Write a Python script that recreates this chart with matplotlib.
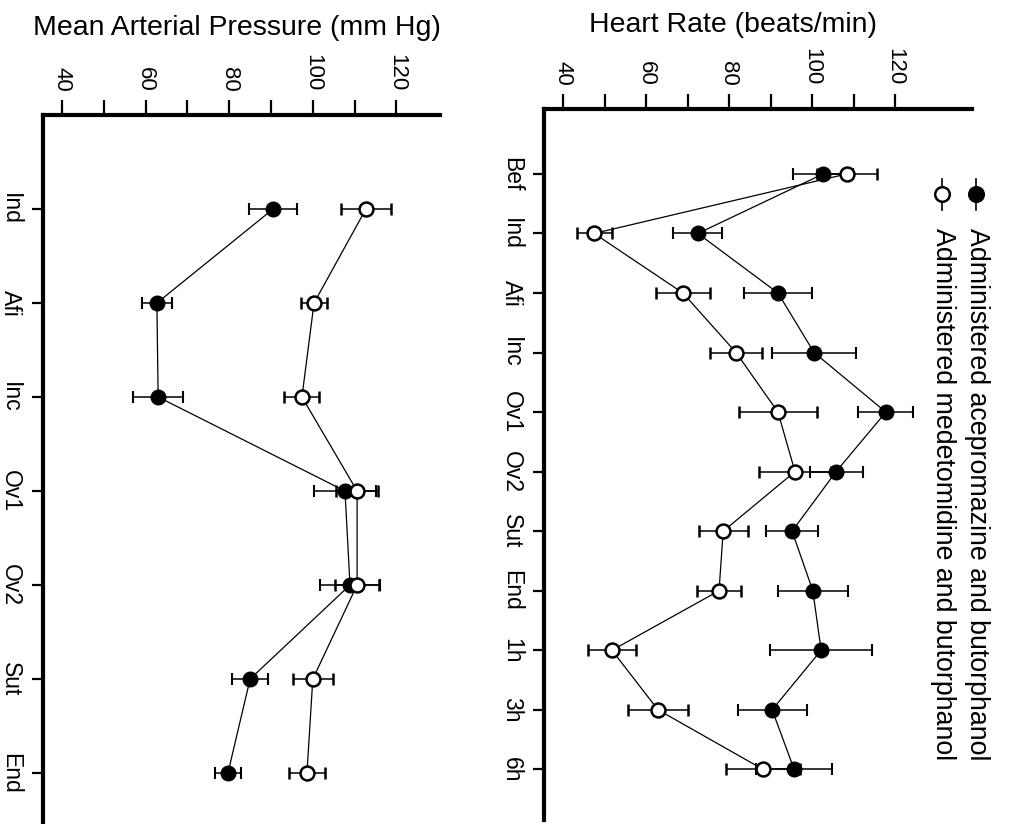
import matplotlib
matplotlib.use("Agg")
import matplotlib.pyplot as plt
from matplotlib.lines import Line2D
import numpy as np

plt.rcParams['font.family'] = ['Liberation Sans', 'DejaVu Sans']

# ---- data ----
map_categories = ["Ind", "Afi", "Inc", "Ov1", "Ov2", "Sut", "End"]
map_ace = [90.5, 62.7, 63.0, 107.7, 108.9, 85.0, 79.7]
map_ace_err = [5.8, 3.6, 6.0, 7.4, 7.2, 4.4, 3.2]
map_med = [112.7, 100.3, 97.4, 110.6, 110.6, 100.0, 98.6]
map_med_err = [6.0, 3.2, 4.2, 5.0, 5.2, 4.8, 4.4]

hr_categories = ["Bef", "Ind", "Afi", "Inc", "Ov1", "Ov2", "Sut", "End", "1h", "3h", "6h"]
hr_ace = [102.7, 72.5, 91.8, 100.5, 117.8, 105.8, 95.2, 100.2, 102.2, 90.4, 95.7]
hr_ace_err = [7.2, 5.9, 8.2, 10.2, 6.6, 6.4, 6.3, 8.4, 12.3, 8.3, 9.2]
hr_med = [108.4, 47.5, 68.9, 81.7, 91.8, 95.9, 78.6, 77.6, 51.8, 62.9, 88.2]
hr_med_err = [7.2, 4.2, 6.5, 6.2, 9.3, 8.7, 5.9, 5.4, 5.8, 7.2, 8.9]

value_ticks = [40, 60, 80, 100, 120]
value_minor = [50, 70, 90, 110]

map_title = "Mean Arterial Pressure (mm Hg)"
hr_title = "Heart Rate (beats/min)"
legend_labels = ["Administered acepromazine and butorphanol",
                 "Administered medetomidine and butorphanol"]

W, H = 1010, 824
fig = plt.figure(figsize=(W / 100, H / 100), dpi=100)


def px_axes(x0, x1, y_top, y_bot):
    return fig.add_axes([x0 / W, 1 - y_bot / H, (x1 - x0) / W, (y_bot - y_top) / H])


def style_axes(ax, cats, xlim, ylim):
    ax.set_xlim(*xlim)
    ax.set_ylim(*ylim)
    for s in ["right", "bottom"]:
        ax.spines[s].set_visible(False)
    for s in ["top", "left"]:
        ax.spines[s].set_linewidth(3.0)
    ax.xaxis.set_ticks_position("top")
    ax.set_xticks(value_ticks)
    ax.set_xticks(value_minor, minor=True)
    ax.set_xticklabels([str(v) for v in value_ticks], rotation=-90, fontsize=16)
    ax.tick_params(axis="x", which="both", direction="out", length=11, width=1.6, pad=6)
    ax.set_yticks(np.arange(1, len(cats) + 1))
    ax.set_yticklabels(cats, rotation=-90, fontsize=16.5, va="center")
    ax.tick_params(axis="y", direction="out", length=8, width=1.6, pad=7)
    ax.patch.set_alpha(0)


def draw_series(ax, vals_a, err_a, vals_m, err_m):
    y = np.arange(1, len(vals_a) + 1)
    ekw = dict(ecolor="black", elinewidth=1.1, capsize=4.5, capthick=1.1)
    ax.errorbar(vals_a, y, xerr=err_a, fmt="-o", color="black", lw=0.9,
                ms=10, mfc="black", mec="black", mew=1.5, zorder=3, **ekw)
    ax.errorbar(vals_m, y, xerr=err_m, fmt="-o", color="black", lw=0.9,
                ms=10, mfc="white", mec="black", mew=1.8, zorder=4, **ekw)


# Left panel: MAP
ax1 = px_axes(43, 440, 115, 115 + 8 * 94)
style_axes(ax1, map_categories,
           (40 - 19 / 4.18, 40 + 378 / 4.18), (8, 0))
draw_series(ax1, map_ace, map_ace_err, map_med, map_med_err)

# Right panel: HR
ax2 = px_axes(544, 972, 109, 820)
style_axes(ax2, hr_categories,
           (40 - 19 / 4.15, 40 + 409 / 4.15), (11.85, -0.09))
draw_series(ax2, hr_ace, hr_ace_err, hr_med, hr_med_err)

# Titles
fig.text(237 / W, 1 - 28 / H, map_title, ha="center", va="center", fontsize=20.5)
fig.text(733 / W, 1 - 25 / H, hr_title, ha="center", va="center", fontsize=20.5)

# Legend (drawn manually, rotated like the chart)
leg_x = [976, 942]
leg_fill = ["black", "white"]
for x, fc, lab in zip(leg_x, leg_fill, legend_labels):
    fig.add_artist(Line2D([x / W, x / W], [1 - 179 / H, 1 - 210 / H],
                          color="black", lw=1.2, transform=fig.transFigure))
    fig.add_artist(Line2D([x / W], [1 - 194 / H], marker="o", ms=10.5,
                          mfc=fc, mec="black", mew=1.8, transform=fig.transFigure))
    fig.text((x + 1) / W, 1 - 228 / H, lab, rotation=-90, ha="center", va="top",
             fontsize=19.3)

fig.savefig("out.png", dpi=100)
